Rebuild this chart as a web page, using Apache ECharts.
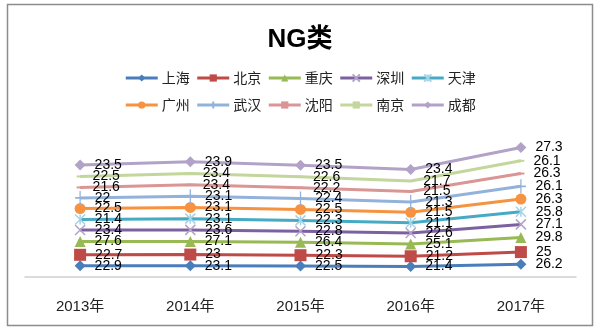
<!DOCTYPE html>
<html><head><meta charset="utf-8">
<script src="https://cdn.jsdelivr.net/npm/echarts@6/dist/echarts.min.js"></script>
<style>html,body{margin:0;padding:0;background:#fff}#c{width:600px;height:336px}</style>
</head><body><div id="c"></div>
<script>
var categories = ['2013年','2014年','2015年','2016年','2017年'];
var names = ['上海','北京','重庆','深圳','天津','广州','武汉','沈阳','南京','成都'];
var shanghai = [22.9, 23.1, 22.5, 21.4, 26.2];
var beijing  = [22.7, 23, 22.3, 21.2, 25];
var chongqing= [27.6, 27.1, 26.4, 25.1, 29.8];
var shenzhen = [23.4, 23.6, 22.8, 22.6, 27.1];
var tianjin  = [21.4, 23.1, 22.3, 21.1, 25.8];
var guangzhou= [22.5, 23.1, 22.5, 21.5, 26.3];
var wuhan    = [22, 23.1, 22.4, 21.3, 26.1];
var shenyang = [21.6, 23.4, 22.2, 21.5, 26.3];
var nanjing  = [22.5, 23.4, 22.6, 21.7, 26.1];
var chengdu  = [23.5, 23.9, 23.5, 23.4, 27.3];
var values = [shanghai, beijing, chongqing, shenzhen, tianjin, guangzhou, wuhan, shenyang, nanjing, chengdu];

var lineColors = ['#4A7EBB','#BE4B48','#98B954','#7D60A0','#46AAC5','#F69240','#93B2DB','#DA9694','#C3D69B','#B3A2C7'];
var X = 'path://M0,0L10,10M10,0L0,10';
var STAR = 'path://M5,0L5,10M0,0L10,10M10,0L0,10';
var PLUS = 'path://M5,0L5,10M0,5L10,5';
var symbols = [
  {s:'diamond', size:11},
  {s:'rect', size:12},
  {s:'triangle', size:11},
  {s:X, size:10, stroke:'#B3A2C7'},
  {s:STAR, size:10, stroke:'#A5D4E6'},
  {s:'circle', size:11},
  {s:PLUS, size:[10,14], stroke:'#93B2DB'},
  {s:'rect', size:[7,2]},
  {s:'rect', size:[7,2]},
  {s:'diamond', size:11}
];

var series = names.map(function(n, i){
  var sym = symbols[i];
  var item = sym.stroke ? {color:'rgba(0,0,0,0)', borderColor:sym.stroke, borderWidth:1.5} : {color:lineColors[i]};
  return {
    name:n, type:'line', stack:'total', data:values[i],
    symbol:sym.s, symbolSize:sym.size, showSymbol:true,
    lineStyle:{color:lineColors[i], width:3},
    itemStyle:item,
    emphasis:{disabled:true},
    label:{show:true, position:'right', distance:9, color:'#000', fontSize:14, fontFamily:'Liberation Sans'},
    animation:false
  };
});

var chart = echarts.init(document.getElementById('c'));
var legendCommon = {left:'center', itemWidth:32, itemHeight:9, itemGap:6,
  lineStyle:{width:3},
  textStyle:{fontSize:14, color:'#222', fontFamily:'Noto Sans CJK SC', padding:[0,0,0,-1]}};
chart.setOption({
  animation:false,
  color: lineColors,
  title:{text:'NG类', left:'center', top:22,
    textStyle:{fontSize:26, fontWeight:'bold', color:'#000', fontFamily:'Liberation Sans, Noto Sans CJK SC'}},
  legend:[
    Object.assign({data:names.slice(0,5), top:66}, legendCommon),
    Object.assign({data:names.slice(5), top:93}, legendCommon)
  ],
  grid:{left:25, right:24, top:131, bottom:59},
  xAxis:{type:'category', data:categories, boundaryGap:true,
    axisLine:{lineStyle:{color:'#D0D0D0', width:1.5}}, axisTick:{show:false},
    axisLabel:{fontSize:15, color:'#222', margin:22, fontFamily:'Liberation Sans, Noto Sans CJK SC'}},
  yAxis:{type:'value', min:0, max:300, interval:50, show:false, splitLine:{show:false}},
  graphic:[{type:'rect', shape:{x:7.5, y:4.5, width:585, height:321}, style:{fill:'none', stroke:'#8C8C8C', lineWidth:1.5}, z:-1}],
  series:series
});
</script></body></html>
